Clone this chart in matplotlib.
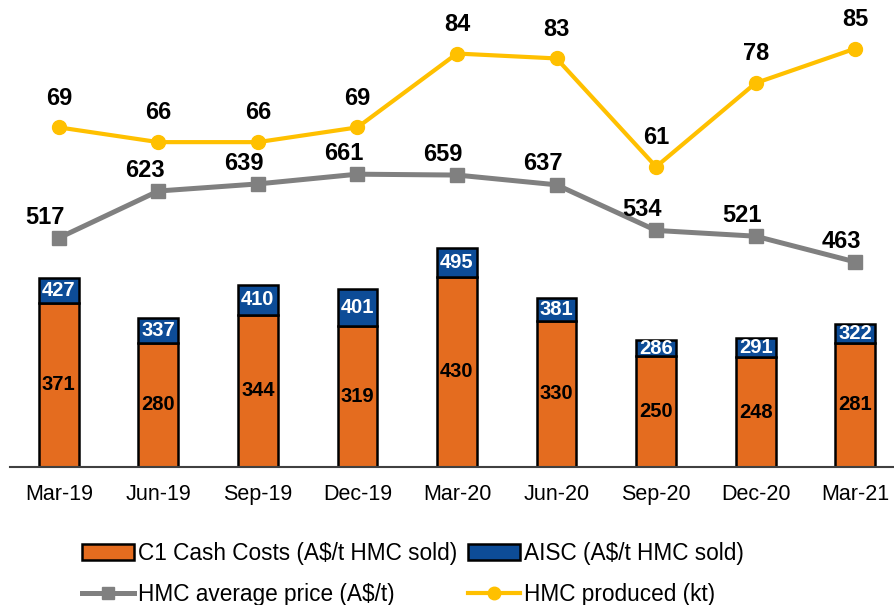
import numpy as np
import matplotlib.pyplot as plt
from matplotlib.lines import Line2D
from matplotlib.patches import Patch

plt.rcParams['font.family'] = ['Liberation Sans', 'DejaVu Sans']

quarters = ['Mar-19', 'Jun-19', 'Sep-19', 'Dec-19', 'Mar-20', 'Jun-20', 'Sep-20', 'Dec-20', 'Mar-21']
c1_cost = [371, 280, 344, 319, 430, 330, 250, 248, 281]
aisc = [427, 337, 410, 401, 495, 381, 286, 291, 322]
hmc_price = [517, 623, 639, 661, 659, 637, 534, 521, 463]
hmc_produced = [69, 66, 66, 69, 84, 83, 61, 78, 85]

orange = '#E46C1F'
blue = '#0D4C97'
grey = '#808080'
yellow = '#FFC000'

fig = plt.figure(figsize=(8.94, 6.05), dpi=100)
ax = fig.add_axes([10 / 894, 138 / 605, 884 / 894, 443 / 605])
ax2 = ax.twinx()

x = np.arange(len(quarters))
gap = np.array(aisc) - np.array(c1_cost)

ax.bar(x, c1_cost, width=0.4, color=orange, edgecolor='black', linewidth=1.8, zorder=2)
ax.bar(x, gap, bottom=c1_cost, width=0.4, color=blue, edgecolor='black', linewidth=1.8, zorder=2)
ax.plot(x, hmc_price, color=grey, lw=3.6, marker='s', ms=10, zorder=3)
ax2.plot(x, hmc_produced, color=yellow, lw=3, marker='o', ms=10, zorder=3)

for i in range(len(x)):
    ax.text(x[i], c1_cost[i] / 2, str(c1_cost[i]), ha='center', va='center',
            fontsize=14.5, fontweight='bold', color='black', zorder=4)
    ax.text(x[i], (c1_cost[i] + aisc[i]) / 2, str(aisc[i]), ha='center', va='center',
            fontsize=14.5, fontweight='bold', color='white', zorder=4)
    ax.annotate(str(hmc_price[i]), (x[i], hmc_price[i]), xytext=(-10, 15),
                textcoords='offset points', ha='center', va='center',
                fontsize=17, fontweight='bold')
    ax2.annotate(str(hmc_produced[i]), (x[i], hmc_produced[i]), xytext=(0, 21),
                 textcoords='offset points', ha='center', va='center',
                 fontsize=17, fontweight='bold')

ax.set_ylim(0, 1000)
ax2.set_ylim(0, 90)
ax.set_xlim(-0.49, 8.39)
ax.set_xticks(x)
ax.set_xticklabels(quarters, fontsize=15.5)
ax.tick_params(axis='x', length=0, pad=12)
ax.set_yticks([])
ax2.set_yticks([])
for a in (ax, ax2):
    for s in ['top', 'left', 'right', 'bottom']:
        a.spines[s].set_visible(False)
ax.spines['bottom'].set_visible(True)
ax.spines['bottom'].set_color('#404040')
ax.spines['bottom'].set_linewidth(1.5)

handles = [
    Patch(facecolor=orange, edgecolor='black', linewidth=1.8),
    Line2D([], [], color=grey, lw=3.6, marker='s', ms=9),
    Patch(facecolor=blue, edgecolor='black', linewidth=1.8),
    Line2D([], [], color=yellow, lw=3, marker='o', ms=9),
]
labels = ['C1 Cash Costs (A$/t HMC sold)', 'HMC average price (A$/t)',
          'AISC (A$/t HMC sold)', 'HMC produced (kt)']
fig.legend(handles, labels, ncol=2, loc='center', bbox_to_anchor=(413 / 894, 1 - 574 / 605),
           frameon=False, fontsize=16.3, handlelength=2.3, handleheight=0.7,
           handletextpad=0.15, columnspacing=0.5, labelspacing=0.8, borderpad=0)

fig.savefig('out.png', dpi=100)
